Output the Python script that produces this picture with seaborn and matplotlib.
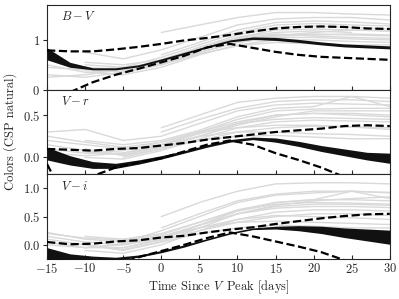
import numpy as np
import pandas as pd
import seaborn as sns
import matplotlib.pyplot as plt
from matplotlib.ticker import MultipleLocator

# days where the individual SN colour curves are sampled
sn_days = [-15, -10, -5, 0, 5, 10, 15, 20, 25, 30]
nan = np.nan

# B-V curves of individual SNe (gray)
bv_curves = [
    [nan, nan, nan, 1.15, 1.30, 1.45, 1.55, 1.55, 1.52, 1.50],
    [nan, 0.75, 0.62, 0.80, 1.05, 1.30, 1.42, 1.45, 1.45, 1.40],
    [0.45, 0.40, 0.45, 0.65, 0.90, 1.15, 1.30, 1.33, 1.30, 1.28],
    [0.25, 0.30, 0.40, 0.60, 0.85, 1.05, 1.20, 1.22, 1.20, 1.18],
    [nan, 0.50, 0.45, 0.55, 0.80, 1.00, 1.10, 1.12, 1.10, 1.08],
    [0.60, 0.45, 0.40, 0.50, 0.75, 0.95, 1.05, 1.05, 1.02, 1.00],
    [nan, 0.35, 0.30, 0.45, 0.70, 0.90, 1.00, 1.00, 0.97, 0.95],
    [nan, nan, 0.35, 0.50, 0.80, 1.05, 1.15, 1.18, 1.15, nan],
    [0.30, 0.25, 0.35, 0.55, 0.80, 1.00, 1.08, 1.10, 1.12, 1.10],
    [nan, 0.55, 0.50, 0.60, 0.85, 1.10, 1.25, 1.28, 1.25, 1.22],
    [nan, nan, 0.40, 0.55, 0.75, 0.95, 1.08, 1.15, 1.20, 1.18],
    [nan, 0.40, 0.35, 0.50, 0.72, 0.88, 0.95, 0.92, 0.90, 0.90],
    [nan, nan, nan, 0.70, 0.95, 1.20, 1.35, 1.38, 1.36, 1.32],
    [0.50, 0.35, 0.38, 0.52, 0.78, 1.02, 1.12, 1.08, 1.05, 1.03],
]

# V-r curves
vr_curves = [
    [nan, nan, nan, 0.35, 0.50, 0.65, 0.70, 0.72, 0.72, 0.70],
    [0.30, 0.33, 0.20, 0.25, 0.40, 0.55, 0.62, 0.64, 0.63, 0.62],
    [0.10, 0.05, 0.05, 0.15, 0.30, 0.45, 0.55, 0.57, 0.58, 0.58],
    [nan, 0.10, 0.02, 0.10, 0.25, 0.40, 0.50, 0.52, 0.52, 0.50],
    [0.20, 0.15, 0.10, 0.15, 0.28, 0.40, 0.45, 0.47, 0.46, 0.45],
    [nan, 0.00, -0.02, 0.08, 0.22, 0.35, 0.42, 0.44, 0.43, 0.42],
    [nan, nan, 0.00, 0.10, 0.20, 0.30, 0.35, 0.37, 0.36, 0.35],
    [0.05, 0.02, 0.05, 0.15, 0.25, 0.30, 0.30, 0.28, 0.27, 0.25],
    [nan, 0.20, 0.15, 0.20, 0.32, 0.48, 0.58, 0.60, 0.72, 0.60],
    [nan, nan, 0.05, 0.12, 0.25, 0.38, 0.48, 0.55, 0.55, 0.55],
    [0.25, 0.18, 0.12, 0.18, 0.30, 0.42, 0.50, 0.52, 0.50, 0.48],
    [nan, 0.05, 0.08, 0.18, 0.30, 0.35, 0.38, 0.38, 0.36, 0.33],
    [nan, nan, nan, 0.30, 0.45, 0.58, 0.66, 0.68, 0.68, 0.66],
    [0.15, 0.08, 0.03, 0.12, 0.20, 0.25, 0.26, 0.24, 0.22, 0.22],
]

# V-i curves
vi_curves = [
    [nan, nan, nan, 0.50, 0.75, 0.95, 1.08, 1.10, 1.10, 1.08],
    [0.22, 0.10, 0.05, 0.25, 0.50, 0.75, 0.88, 0.92, 0.95, 0.92],
    [0.05, -0.05, -0.05, 0.10, 0.35, 0.60, 0.75, 0.80, 0.80, 0.78],
    [nan, 0.00, -0.10, 0.05, 0.30, 0.55, 0.68, 0.72, 0.72, 0.70],
    [0.15, 0.05, 0.00, 0.12, 0.35, 0.55, 0.65, 0.68, 0.68, 0.66],
    [nan, -0.10, -0.15, 0.00, 0.25, 0.45, 0.58, 0.62, 0.62, 0.60],
    [nan, nan, -0.05, 0.08, 0.25, 0.40, 0.50, 0.55, 0.55, 0.52],
    [0.00, -0.05, 0.02, 0.15, 0.30, 0.40, 0.42, 0.40, 0.38, 0.36],
    [nan, 0.15, 0.10, 0.20, 0.40, 0.62, 0.75, 0.80, 0.95, 0.82],
    [nan, nan, 0.05, 0.15, 0.35, 0.55, 0.70, 0.78, 0.82, 0.85],
    [0.20, 0.12, 0.08, 0.18, 0.40, 0.60, 0.72, 0.75, 0.74, 0.72],
    [nan, -0.05, 0.00, 0.12, 0.30, 0.45, 0.52, 0.50, 0.48, 0.45],
    [nan, nan, nan, 0.30, 0.55, 0.78, 0.90, 0.95, 0.95, 0.93],
    [0.10, 0.00, -0.08, 0.05, 0.20, 0.30, 0.35, 0.33, 0.30, 0.30],
]

# model days (black band + dashed templates)
model_days = [-15, -12, -9, -6, -3, 0, 3, 6, 9, 12, 15, 18, 21, 24, 27, 30]

bv_lo = [0.60, 0.45, 0.40, 0.40, 0.46, 0.58, 0.71, 0.84, 0.96, 1.01, 0.99, 0.95, 0.90, 0.86, 0.84, 0.82]
bv_hi = [0.84, 0.55, 0.44, 0.44, 0.50, 0.62, 0.75, 0.88, 1.00, 1.06, 1.05, 1.01, 0.96, 0.92, 0.90, 0.88]
vr_lo = [-0.03, -0.09, -0.13, -0.13, -0.08, -0.02, 0.05, 0.12, 0.18, 0.21, 0.18, 0.13, 0.07, 0.02, -0.03, -0.07]
vr_hi = [0.12, 0.02, -0.05, -0.07, -0.03, 0.02, 0.08, 0.15, 0.21, 0.24, 0.23, 0.19, 0.14, 0.10, 0.06, 0.05]
vi_lo = [-0.26, -0.28, -0.28, -0.27, -0.22, -0.14, -0.04, 0.08, 0.19, 0.27, 0.28, 0.25, 0.20, 0.13, 0.07, 0.01]
vi_hi = [-0.05, -0.16, -0.20, -0.22, -0.18, -0.10, 0.00, 0.11, 0.22, 0.30, 0.33, 0.34, 0.33, 0.30, 0.28, 0.26]

bv_dash1 = [0.79, 0.77, 0.77, 0.81, 0.86, 0.92, 0.99, 1.04, 1.10, 1.17, 1.23, 1.26, 1.27, 1.26, 1.23, 1.22]
bv_dash2 = [nan, -0.05, 0.15, 0.30, 0.42, 0.55, 0.68, 0.85, 0.92, 0.84, 0.76, 0.70, 0.66, 0.64, 0.62, 0.60]
vr_dash1 = [0.10, 0.09, 0.08, 0.10, 0.11, 0.14, 0.17, 0.21, 0.24, 0.27, 0.30, 0.32, 0.34, 0.37, 0.38, 0.37]
vr_dash2 = [-0.08, -0.60, -0.22, -0.12, -0.06, -0.01, 0.07, 0.15, 0.20, 0.15, 0.05, -0.03, -0.12, -0.23, -0.33, -0.43]
vi_dash1 = [0.05, 0.01, 0.02, 0.06, 0.08, 0.13, 0.16, 0.22, 0.27, 0.31, 0.37, 0.42, 0.47, 0.51, 0.54, 0.55]
vi_dash2 = [nan, nan, nan, -0.36, -0.22, -0.11, 0.00, 0.12, 0.22, 0.15, 0.06, -0.03, -0.13, -0.27, -0.40, -0.52]

panels = [
    ("$B-V$", bv_curves, bv_lo, bv_hi, bv_dash1, bv_dash2, (0, 1.7), 1.0),
    ("$V-r$", vr_curves, vr_lo, vr_hi, vr_dash1, vr_dash2, (-0.2, 0.8), 0.5),
    ("$V-i$", vi_curves, vi_lo, vi_hi, vi_dash1, vi_dash2, (-0.25, 1.25), 0.5),
]

sns.set_style("ticks")
plt.rcParams['font.family'] = 'serif'
plt.rcParams['font.serif'] = ['cmr10']
plt.rcParams['mathtext.fontset'] = 'cm'
plt.rcParams['axes.formatter.use_mathtext'] = True
plt.rcParams['font.size'] = 9

fig, axes = plt.subplots(3, 1, sharex=True, figsize=(3.99, 2.99), dpi=100)
fig.subplots_adjust(left=0.118, right=0.977, top=0.983, bottom=0.134, hspace=0)

for ax, (label, curves, lo, hi, d1, d2, ylim, step) in zip(axes, panels):
    rows = []
    for i, c in enumerate(curves):
        for d, v in zip(sn_days, c):
            if not np.isnan(v):
                rows.append({'sn': i, 'day': d, 'color': v})
    df = pd.DataFrame(rows)
    sns.lineplot(data=df, x='day', y='color', units='sn', estimator=None,
                 color='#d9d9d9', lw=1.0, ax=ax, legend=False)
    ax.fill_between(model_days, lo, hi, color='#111111', lw=0, zorder=3)
    ax.plot(model_days, d1, color='black', ls='--', lw=1.6, zorder=4)
    ax.plot(model_days, d2, color='black', ls='--', lw=1.6, zorder=4)
    ax.set_xlim(-15, 30)
    ax.set_ylim(*ylim)
    ax.yaxis.set_major_locator(MultipleLocator(step))
    ax.xaxis.set_major_locator(MultipleLocator(5))
    ax.set_xlabel('')
    ax.set_ylabel('')
    ax.tick_params(axis='x', direction='in', length=3, pad=2)
    ax.tick_params(axis='y', direction='out', length=3, pad=2)
    ax.text(0.04, 0.82, label, transform=ax.transAxes, fontsize=9)

axes[-1].set_xlabel('Time Since $V\\,$ Peak [days]', labelpad=2)
fig.text(0.025, 0.56, 'Colors (CSP natural)', rotation=90, va='center', ha='center')

fig.savefig('out.png', dpi=100)
